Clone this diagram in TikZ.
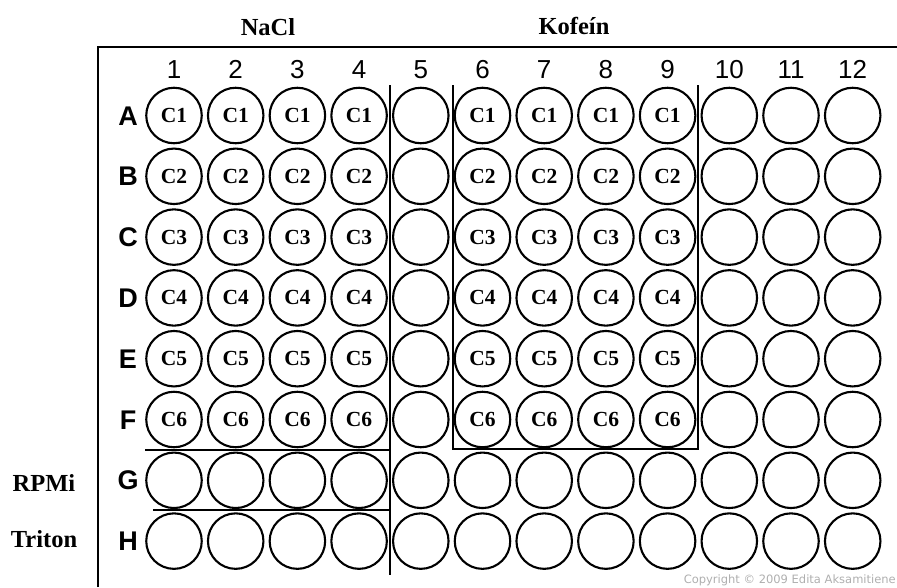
\documentclass[tikz,border=0pt]{standalone}
\usepackage{fontspec}
\setmainfont{Liberation Serif}
\newfontfamily\platesans{Liberation Sans}
\newfontfamily\copyfont{DejaVu Sans}
\definecolor{copygray}{RGB}{175,175,175}

\begin{document}
\begin{tikzpicture}[x=1pt, y=-1pt,
  well/.style={draw, circle, line width=2.1pt, minimum size=55.5pt, inner sep=0pt, font=\fontsize{21.5}{21.5}\selectfont\bfseries},
  colnum/.style={anchor=base, inner sep=0pt, font=\platesans\fontsize{26}{26}\selectfont},
  rowlet/.style={anchor=base, inner sep=0pt, font=\platesans\bfseries\fontsize{27}{27}\selectfont},
  grouplab/.style={inner sep=0pt, font=\fontsize{24.5}{24.5}\selectfont\bfseries},
  divider/.style={line width=1.5pt}
]
  \useasboundingbox (0,0) rectangle (897,587);
  \draw[line width=2.2pt] (98,587) -- (98,47) -- (897,47);

  \foreach \c in {1,...,12}
    \node[colnum] (col\c) at ({174+(\c-1)*61.7},78) {\c};

  \foreach \r [count=\i] in {A,B,C,D,E,F,G,H} {
    \node[rowlet] (row\r) at (128,{125+(\i-1)*60.8}) {\r};
    \foreach \c in {1,...,12} {
      \def\conc{}
      \ifnum\i<7 \ifnum\c<10 \ifnum\c=5 \else \def\conc{C\i}\fi\fi\fi
      \node[well] (w\r\c) at ({174+(\c-1)*61.7},{115.5+(\i-1)*60.8}) {\conc};
    }
  }

  \draw[divider] (390,85) -- (390,575);
  \draw[divider] (453,85) -- (453,449) -- (698,449) -- (698,85);
  \draw[divider] (145,450) -- (390,450);
  \draw[divider] (153,510) -- (390,510);

  \node[grouplab] (nacl) at (268,27) {NaCl};
  \node[grouplab] (kofein) at (574,26) {Kofeín};
  \node[grouplab] (rpmi) at (44,483) {RPMi};
  \node[grouplab] (triton) at (44,539) {Triton};

  \node[anchor=south east, inner sep=0pt, text=copygray, font=\copyfont\fontsize{11.5}{11.5}\selectfont] (copy) at (896,586) {Copyright © 2009 Edita Aksamitiene};
\end{tikzpicture}
\end{document}
